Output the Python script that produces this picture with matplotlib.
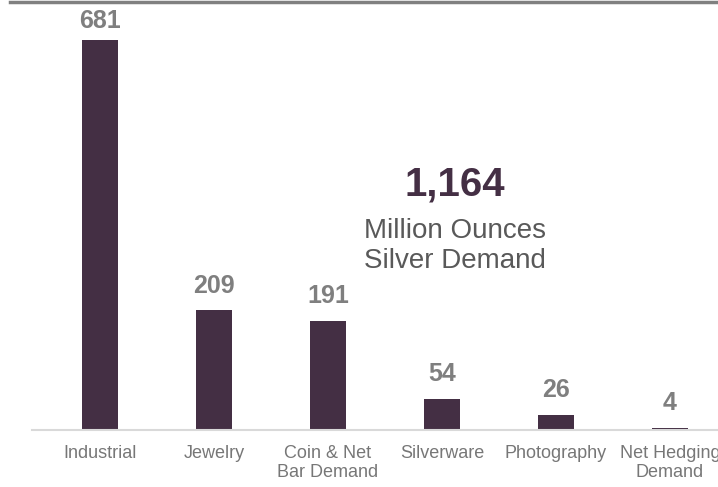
import matplotlib
matplotlib.use("Agg")
import matplotlib.pyplot as plt
from matplotlib.lines import Line2D

plt.rcParams['font.family'] = ['Liberation Sans', 'DejaVu Sans']

categories = ["Industrial", "Jewelry", "Coin & Net\nBar Demand", "Silverware",
              "Photography", "Net Hedging\nDemand"]
demand = [681, 209, 191, 54, 26, 4]
total_label = "1,164"

bar_color = "#442f44"
value_color = "#7f7f7f"

fig = plt.figure(figsize=(7.18, 4.87), dpi=100)
ax = fig.add_axes([32 / 718, 57 / 487, 1 - 32 / 718, 430 / 487])

y_max = 751
label_gap = 31      # space between bar top and value label, in data units
label_ceiling = 702  # value labels are held below this

x = range(len(categories))
ax.bar(x, demand, width=0.316, color=bar_color, zorder=2)

for xi, v in zip(x, demand):
    ax.text(xi, min(v + label_gap, label_ceiling), str(v),
            ha="center", va="baseline", fontsize=18, fontweight="bold",
            color=value_color)

ax.set_xlim(-0.596, 5.421)
ax.set_ylim(0, y_max)
ax.set_yticks([])
ax.set_xticks(list(x))
ax.set_xticklabels(categories, fontsize=13, color="#777777", linespacing=1.15)
ax.tick_params(axis="x", length=0, pad=11)
for side in ("top", "right", "left"):
    ax.spines[side].set_visible(False)
ax.spines["bottom"].set_color("#d9d9d9")
ax.spines["bottom"].set_linewidth(1.5)

# total demand callout
cx = 455 / 718
fig.text(cx, 1 - 195 / 487, total_label, ha="center", va="baseline",
         fontsize=29, fontweight="bold", color=bar_color)
fig.text(cx, 1 - 238 / 487, "Million Ounces", ha="center", va="baseline",
         fontsize=20, color="#595959")
fig.text(cx, 1 - 268 / 487, "Silver Demand", ha="center", va="baseline",
         fontsize=20, color="#595959")

# header rule
fig.add_artist(Line2D([10 / 718, 1], [1 - 2 / 487, 1 - 2 / 487],
                      color="#808080", linewidth=2.5, transform=fig.transFigure))

fig.savefig("out.png", dpi=100)
